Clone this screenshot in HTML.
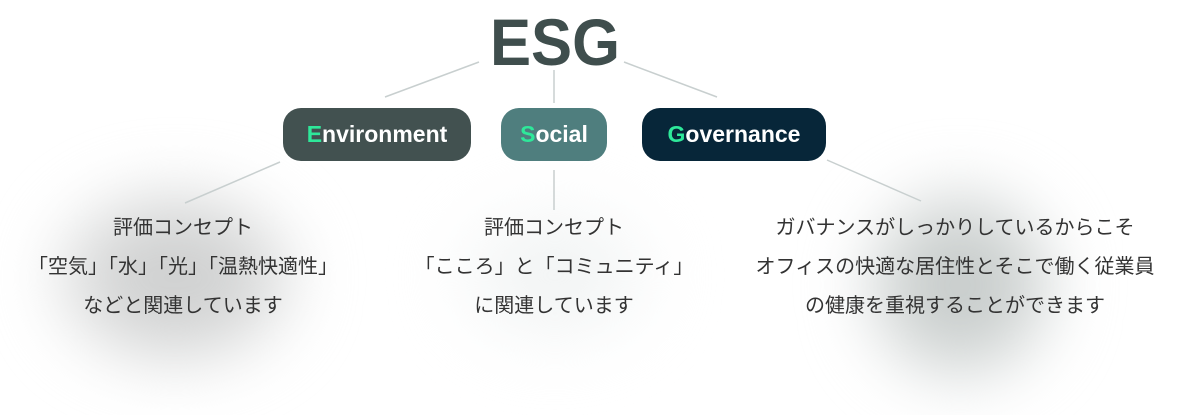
<!DOCTYPE html>
<html><head><meta charset="utf-8"><style>
body{margin:0;width:1200px;height:415px;background:#fff;position:relative;overflow:hidden;font-family:"Liberation Sans","Noto Sans CJK JP",sans-serif}
.blob{position:absolute;border-radius:50%;filter:blur(30px)}
.pill{position:absolute;top:108px;height:53px;border-radius:18px;color:#fff;font-size:23px;font-weight:bold;display:flex;align-items:center;justify-content:center}
.pill b{color:#2ee89a}
.txt{position:absolute;width:440px;text-align:center;color:#333;font-size:20px;line-height:39px}
</style></head><body>
<div class="blob" style="left:50px;top:185px;width:250px;height:185px;background:radial-gradient(ellipse,#c9caca 0%,#d8d9d9 45%,rgba(232,233,233,0.5) 75%,rgba(255,255,255,0) 100%)"></div>
<div class="blob" style="left:860px;top:185px;width:200px;height:200px;background:radial-gradient(ellipse,#c0c5c4 0%,#d2d6d5 45%,rgba(228,231,231,0.5) 75%,rgba(255,255,255,0) 100%)"></div>
<div class="blob" style="left:450px;top:200px;width:210px;height:150px;background:radial-gradient(ellipse,#eef1f1 0%,rgba(245,247,247,0.6) 60%,rgba(255,255,255,0) 100%)"></div>
<svg width="1200" height="415" style="position:absolute;left:0;top:0">
<g stroke="#c8cfcf" stroke-width="1.5">
<line x1="385" y1="97" x2="479" y2="62"/>
<line x1="554" y1="70" x2="554" y2="103"/>
<line x1="624" y1="62" x2="717" y2="97"/>
<line x1="280" y1="162" x2="185" y2="203"/>
<line x1="554" y1="170" x2="554" y2="210"/>
<line x1="827" y1="160" x2="921" y2="201"/>
</g>
<text x="490" y="65" textLength="130" lengthAdjust="spacingAndGlyphs" font-family="Liberation Sans" font-weight="bold" font-size="66" fill="#3f4e4d">ESG</text>
</svg>
<div class="pill" style="left:283px;width:188px;background:#425150"><b>E</b>nvironment</div>
<div class="pill" style="left:501px;width:106px;background:#4f7e7e"><b>S</b>ocial</div>
<div class="pill" style="left:642px;width:184px;background:#072639"><b>G</b>overnance</div>
<div class="txt" style="left:-37px;top:209px">評価コンセプト<br>「空気」「水」「光」「温熱快適性」<br>などと関連しています</div>
<div class="txt" style="left:334px;top:209px">評価コンセプト<br>「こころ」と「コミュニティ」<br>に関連しています</div>
<div class="txt" style="left:735px;top:209px">ガバナンスがしっかりしているからこそ<br>オフィスの快適な居住性とそこで働く従業員<br>の健康を重視することができます</div>
</body></html>
